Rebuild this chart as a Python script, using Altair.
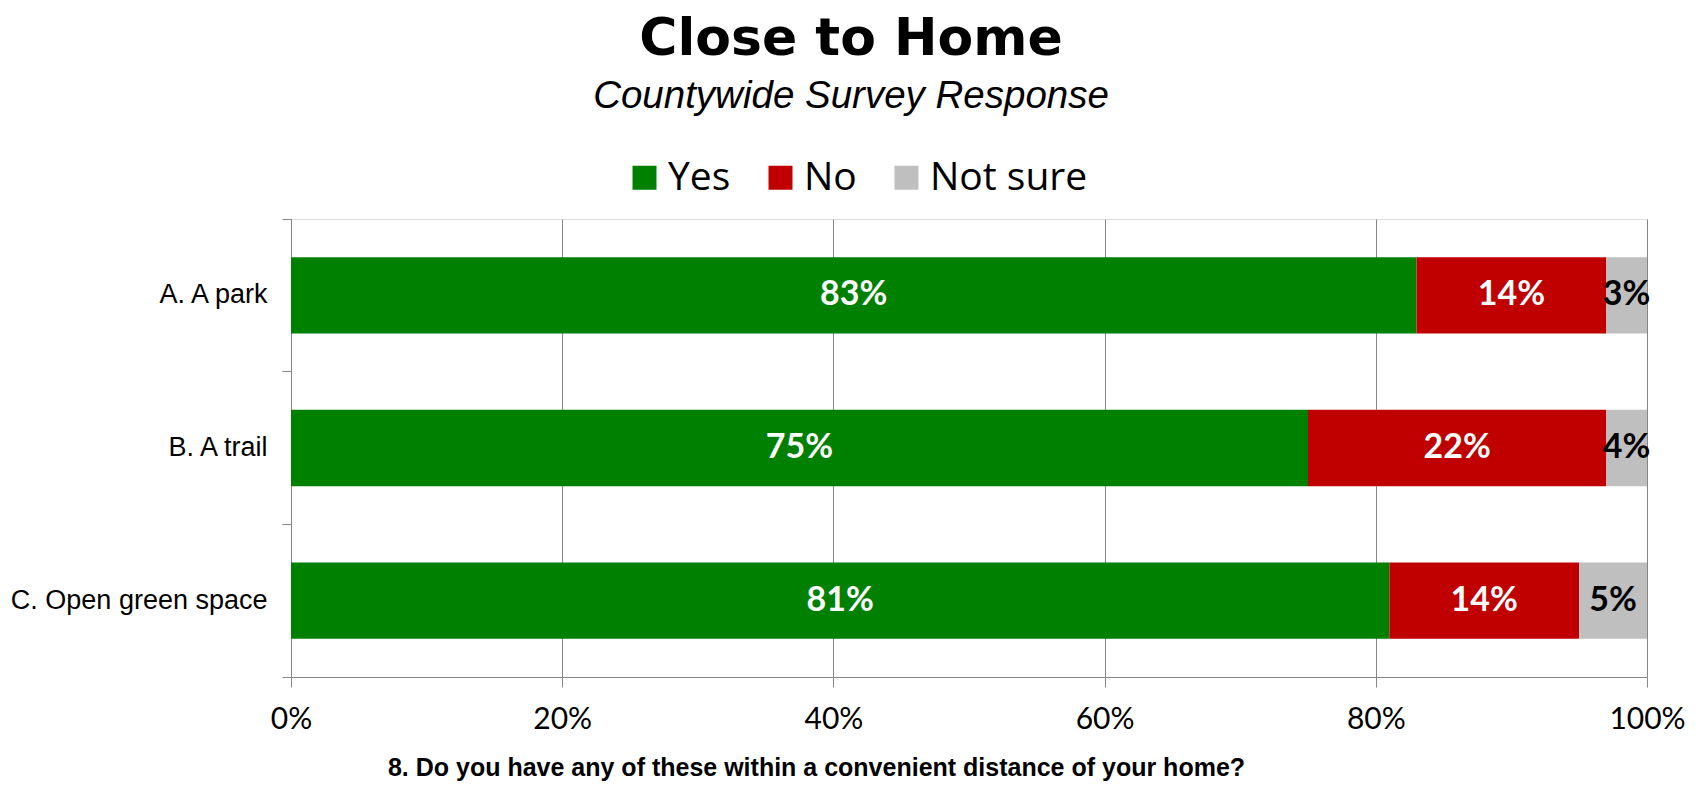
import altair as alt
import pandas as pd

items = ["A. A park", "B. A trail", "C. Open green space"]
responses = ["Yes", "No", "Not sure"]
yes = [83, 75, 81]
no = [14, 22, 14]
not_sure = [3, 4, 5]
colors = ["#008000", "#C00000", "#BFBFBF"]
x_ticks = [0, 0.2, 0.4, 0.6, 0.8, 1.0]

rows = []
for i, item in enumerate(items):
    for k, (r, vals) in enumerate(zip(responses, [yes, no, not_sure])):
        rows.append({"item": item, "response": r, "value": vals[i], "order": k,
                     "label": f"{vals[i]}%"})
df = pd.DataFrame(rows)

GRAY = "#868686"

base = alt.Chart(df).transform_stack(
    stack="value", groupby=["item"], as_=["s0", "s1"],
    sort=[alt.SortField("order", order="ascending")]
).transform_calculate(
    x0="datum.s0 / 100",
    x1="min(datum.s1, 100) / 100",
).transform_calculate(mid="(datum.x0 + datum.x1) / 2")

y_scale = alt.Scale(domain=items, paddingInner=0, paddingOuter=0)
x_scale = alt.Scale(domain=[0, 1], nice=False)

x_axis = alt.Axis(
    format="%", values=x_ticks, grid=True, gridColor=GRAY, domainColor=GRAY,
    tickColor=GRAY, tickSize=10, labelFont="Lato", labelFontSize=30,
    labelColor="black", labelPadding=17, labelFlush=False,
    title="8. Do you have any of these within a convenient distance of your home?",
    titleFont="Liberation Sans", titleFontSize=25, titleFontWeight="bold",
    titleColor="black", titleX=525, titleY=98, titleAlign="center",
    titleBaseline="alphabetic")

bars = base.mark_bar(height={"band": 0.5}).encode(
    x=alt.X("x0:Q", scale=x_scale, axis=x_axis),
    x2="x1:Q",
    y=alt.Y("item:N", scale=y_scale, sort=items, axis=alt.Axis(
        orient="left", title=None, ticks=False, domain=False, grid=False,
        labelFont="Liberation Sans", labelFontSize=27, labelColor="black",
        labelPadding=24, labelLimit=500)),
    color=alt.Color("response:N", scale=alt.Scale(domain=responses, range=colors),
                    legend=alt.Legend(title=None, orient="none", legendX=334, legendY=-61,
                                      direction="horizontal", symbolType="square",
                                      symbolSize=576, symbolStrokeWidth=0,
                                      labelFont="Open Sans", labelFontSize=39,
                                      labelColor="black", columnPadding=30,
                                      labelOffset=4, padding=0)),
    order="order:Q",
)

txt_white = base.transform_filter("datum.response != 'Not sure'").mark_text(
    font="Lato", fontSize=34, fontWeight="bold", color="white"
).encode(
    x=alt.X("mid:Q", scale=x_scale, axis=x_axis),
    y=alt.Y("item:N", scale=y_scale, sort=items, axis=alt.Axis(
        orient="left", title=None, labels=False, ticks=True, tickSize=9,
        tickColor=GRAY, bandPosition=0, domain=True, domainColor=GRAY, grid=False)),
    text="label:N",
)

txt_black = base.transform_filter("datum.response == 'Not sure'").mark_text(
    font="Lato", fontSize=34, fontWeight="bold", color="black"
).encode(
    x=alt.X("mid:Q", scale=x_scale, axis=x_axis),
    y=alt.Y("item:N", scale=y_scale, sort=items, axis=alt.Axis(
        orient="left", title=None, labels=False, ticks=True, tickSize=9,
        tickColor=GRAY, bandPosition=1, domain=False, grid=False)),
    text="label:N",
)

chart = alt.layer(bars, txt_white, txt_black).resolve_axis(y="independent").properties(
    width=1356, height=458,
    autosize=alt.AutoSizeParams(type="none"),
    padding={"left": 283, "top": 211, "right": 45, "bottom": 110},
    title=alt.Title("Close to Home", subtitle="Countywide Survey Response",
                    font="DejaVu Sans", fontSize=52, fontWeight="bold", color="black",
                    subtitleFont="Liberation Sans", subtitleFontStyle="italic",
                    subtitleFontSize=38.5, subtitleColor="black", subtitlePadding=12,
                    anchor="middle", frame="group", dx=-118, offset=42),
).configure_view(strokeWidth=0).configure(background="white")

chart.save("out.html", embed_options={"renderer": "svg", "actions": False})
